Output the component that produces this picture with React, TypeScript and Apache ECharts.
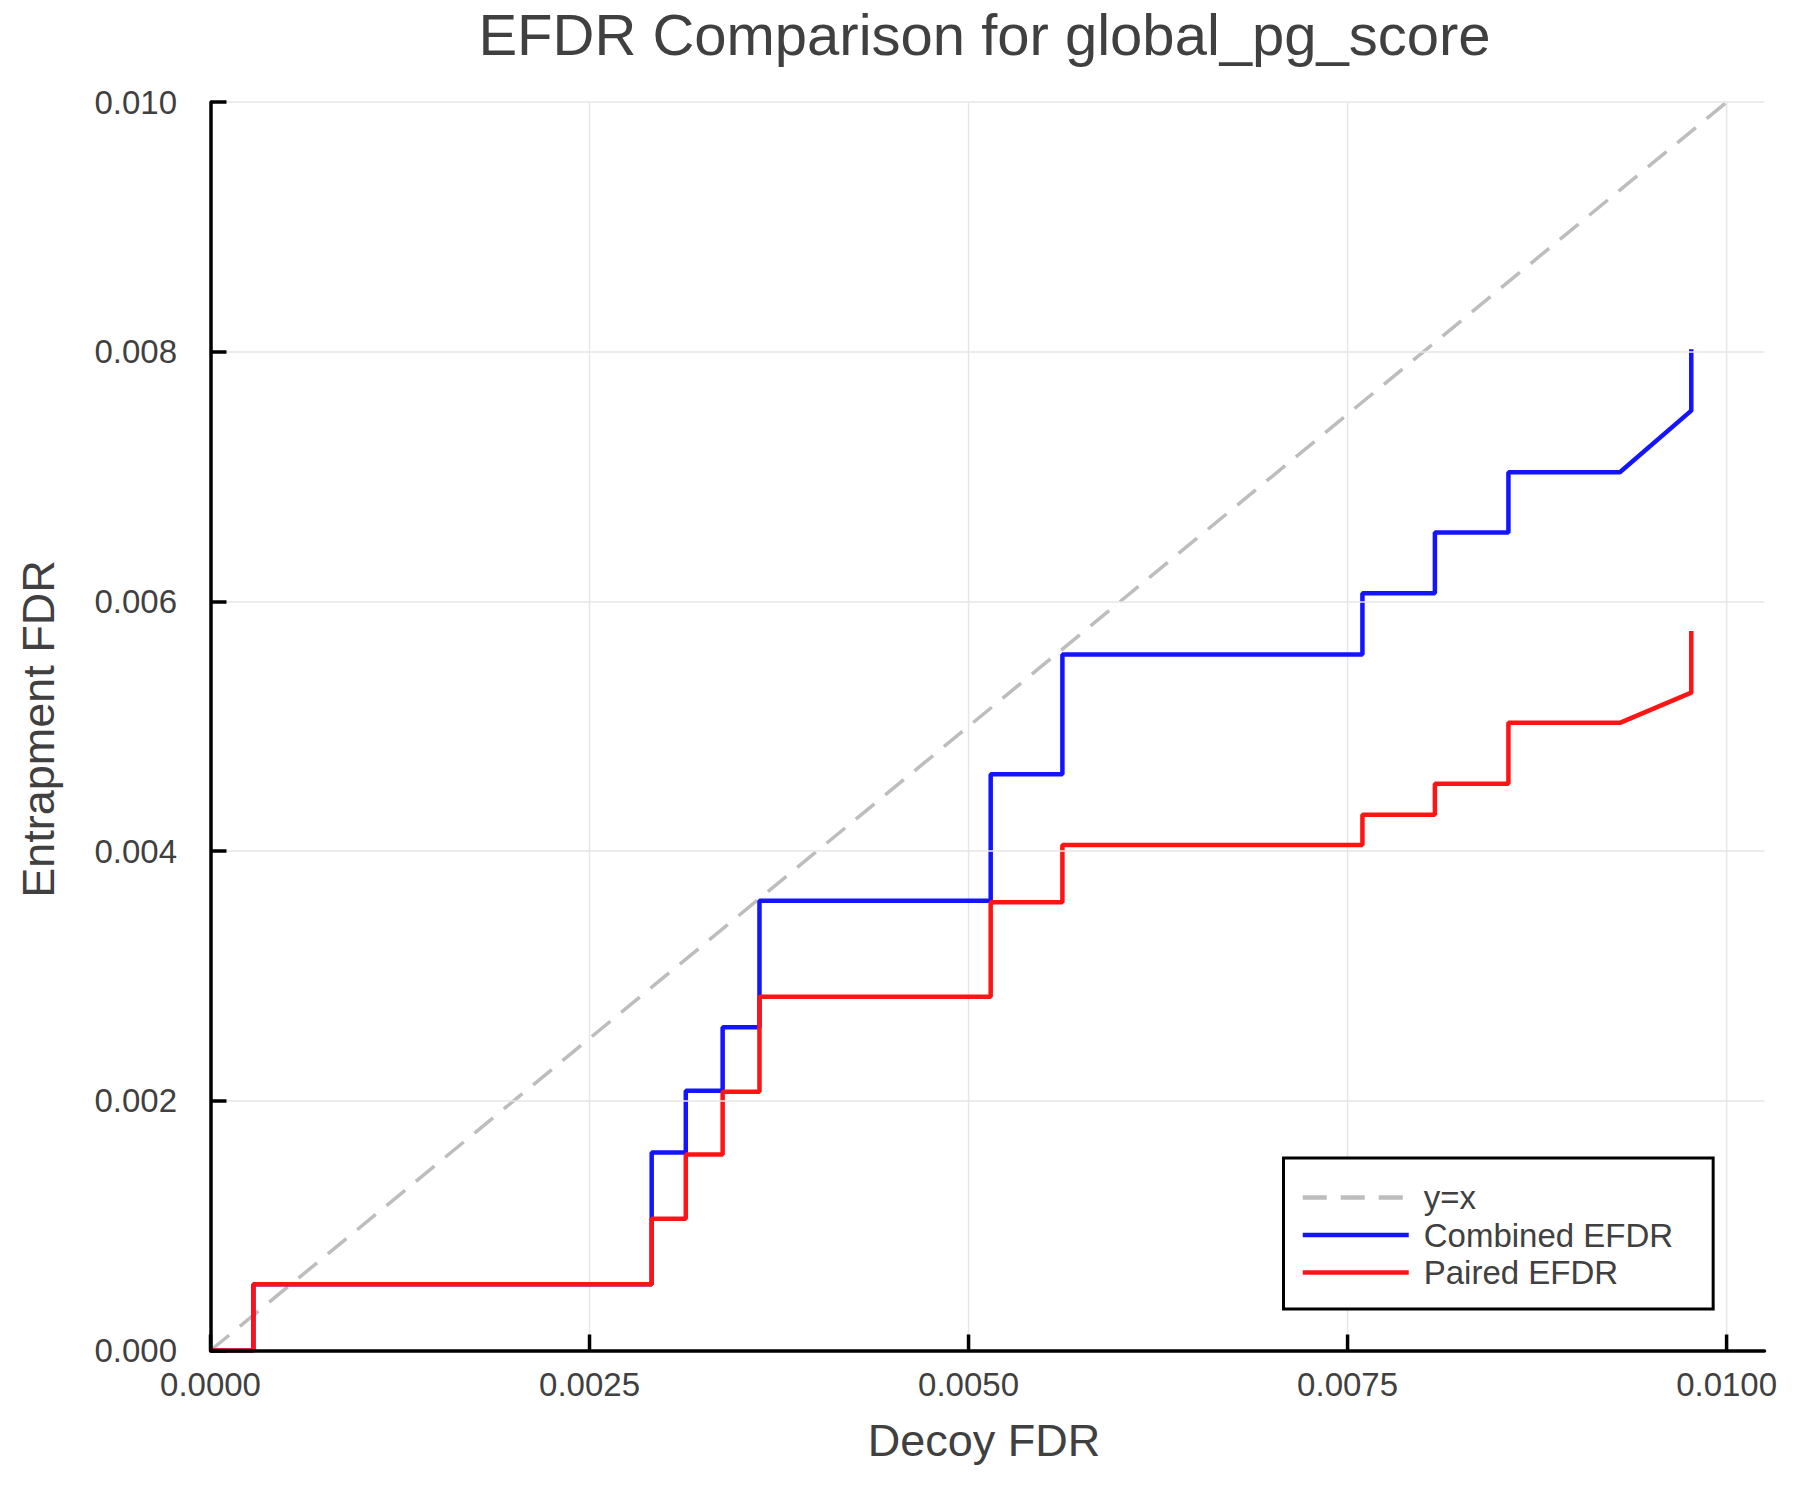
import { useEffect, useRef } from 'react';
import * as echarts from 'echarts';

// step curves (shared x, duplicated at each jump)
const decoyFdr = [
  0, 0.000283, 0.000283, 0.002910, 0.002910, 0.003135, 0.003135, 0.003378, 0.003378,
  0.003621, 0.003621, 0.005146, 0.005146, 0.005619, 0.005619, 0.007598, 0.007598,
  0.008076, 0.008076, 0.008561, 0.008561, 0.009296, 0.009767, 0.009767,
];
const combinedEfdr = [
  0, 0, 0.000530, 0.000530, 0.001587, 0.001587, 0.002081, 0.002081, 0.002589,
  0.002589, 0.003602, 0.003602, 0.004616, 0.004616, 0.005575, 0.005575, 0.006066,
  0.006066, 0.006553, 0.006553, 0.007036, 0.007036, 0.007529, 0.008021,
];
const pairedEfdr = [
  0, 0, 0.000530, 0.000530, 0.001055, 0.001055, 0.001570, 0.001570, 0.002073,
  0.002073, 0.002834, 0.002834, 0.003590, 0.003590, 0.004050, 0.004050, 0.004292,
  0.004292, 0.004540, 0.004540, 0.005028, 0.005028, 0.005270, 0.005764,
];
const diagX = [0, 0.01];
const xTicks = [0, 0.0025, 0.005, 0.0075, 0.01];

const X_MAX = 0.01025;
const Y_MAX = 0.01;
const FONT = '"Liberation Sans", Arial, Helvetica, sans-serif';
const TEXT = '#404040';
const LINE_W = 4.5;

export default function App() {
  const chartRef = useRef<HTMLDivElement>(null);

  useEffect(() => {
    if (!chartRef.current) return;
    document.body.style.margin = '0';

    const chart = echarts.init(chartRef.current, null, { renderer: 'svg' });

    const option = {
      animation: false,
      backgroundColor: '#ffffff',
      textStyle: { fontFamily: FONT },
      grid: { left: 210.5, right: 35.5, top: 102.2, bottom: 149.5 },
      graphic: [
        {
          type: 'text',
          x: 984.5,
          y: 34,
          style: {
            text: 'EFDR Comparison for global_pg_score',
            fontSize: 58,
            fontFamily: FONT,
            fill: TEXT,
            align: 'center',
            verticalAlign: 'middle',
          },
        },
        {
          type: 'text',
          x: 984,
          y: 1440,
          style: {
            text: 'Decoy FDR',
            fontSize: 45,
            fontFamily: FONT,
            fill: TEXT,
            align: 'center',
            verticalAlign: 'middle',
          },
        },
        {
          type: 'text',
          x: 38,
          y: 729,
          rotation: Math.PI / 2,
          style: {
            text: 'Entrapment FDR',
            fontSize: 45,
            fontFamily: FONT,
            fill: TEXT,
            align: 'center',
            verticalAlign: 'middle',
          },
        },
      ],
      legend: {
        orient: 'vertical',
        left: 1283.5,
        top: 1158,
        padding: [23, 40, 20, 17],
        backgroundColor: '#ffffff',
        borderColor: '#000000',
        borderWidth: 3,
        borderRadius: 0,
        itemWidth: 106,
        itemHeight: 3,
        itemGap: 4.5,
        selectedMode: false,
        lineStyle: { width: LINE_W },
        textStyle: {
          fontSize: 33,
          lineHeight: 33,
          color: TEXT,
          fontFamily: FONT,
          padding: [0, 0, 0, 10],
        },
        data: ['y=x', 'Combined EFDR', 'Paired EFDR'],
      },
      xAxis: {
        type: 'value',
        min: 0,
        max: X_MAX,
        interval: 0.0025,
        z: 6,
        axisLine: { show: true, onZero: false, lineStyle: { color: '#000000', width: 3.5 } },
        axisTick: { show: false },
        splitLine: { show: false },
        axisLabel: {
          fontSize: 33,
          color: TEXT,
          fontFamily: FONT,
          margin: 17,
          formatter: (v: number) =>
            Math.abs(v / 0.0025 - Math.round(v / 0.0025)) < 1e-6 ? v.toFixed(4) : '',
        },
      },
      yAxis: {
        type: 'value',
        min: 0,
        max: Y_MAX,
        interval: 0.002,
        z: 6,
        axisLine: { show: true, onZero: false, lineStyle: { color: '#000000', width: 3.5 } },
        axisTick: { show: true, inside: true, length: 16, lineStyle: { color: '#000000', width: 3.5 } },
        splitLine: { show: true, lineStyle: { color: '#e6e6e6', width: 1.5 } },
        axisLabel: {
          fontSize: 33,
          color: TEXT,
          fontFamily: FONT,
          margin: 33.5,
          formatter: (v: number) => v.toFixed(3),
        },
      },
      series: [
        {
          // vertical grid lines for the x ticks
          type: 'custom',
          z: 1,
          silent: true,
          data: xTicks.filter((v) => v > 0).map((v) => [v]),
          encode: { x: 0 },
          renderItem: (params: any, api: any) => {
            const v = api.value(0);
            const p0 = api.coord([v, 0]);
            const p1 = api.coord([v, Y_MAX]);
            return {
              type: 'line',
              shape: { x1: p0[0], y1: p0[1], x2: p1[0], y2: p1[1] },
              style: { stroke: '#e6e6e6', lineWidth: 1.5 },
            };
          },
        },
        {
          // inward x ticks
          type: 'custom',
          z: 7,
          silent: true,
          data: xTicks.map((v) => [v]),
          encode: { x: 0 },
          renderItem: (params: any, api: any) => {
            const v = api.value(0);
            const p0 = api.coord([v, 0]);
            return {
              type: 'line',
              shape: { x1: p0[0], y1: p0[1], x2: p0[0], y2: p0[1] - 16 },
              style: { stroke: '#000000', lineWidth: 3.5 },
            };
          },
        },
        {
          name: 'y=x',
          type: 'line',
          symbol: 'none',
          z: 2,
          data: diagX.map((x) => [x, x]),
          lineStyle: { color: '#bdbdbd', width: 3.5, type: [24, 14] },
          itemStyle: { color: '#bdbdbd' },
        },
        {
          name: 'Combined EFDR',
          type: 'line',
          symbol: 'none',
          z: 3,
          data: decoyFdr.map((x, i) => [x, combinedEfdr[i]]),
          lineStyle: { color: '#1414ff', width: LINE_W },
          itemStyle: { color: '#1414ff' },
        },
        {
          name: 'Paired EFDR',
          type: 'line',
          symbol: 'none',
          z: 4,
          data: decoyFdr.map((x, i) => [x, pairedEfdr[i]]),
          lineStyle: { color: '#ff1414', width: LINE_W },
          itemStyle: { color: '#ff1414' },
        },
      ],
    };

    chart.setOption(option);

    return () => {
      chart.dispose();
    };
  }, []);

  return <div ref={chartRef} style={{ width: '1800px', height: '1500px' }} />;
}
